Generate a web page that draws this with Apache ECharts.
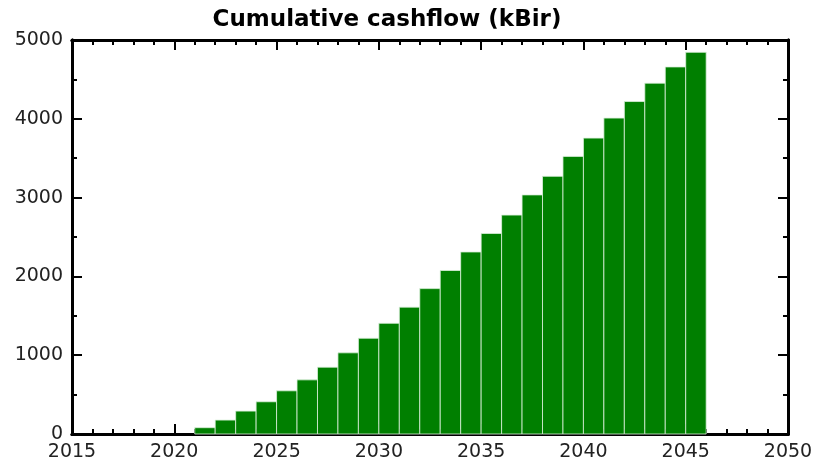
<!DOCTYPE html>
<html>
<head>
<meta charset="utf-8">
<script src="https://cdn.jsdelivr.net/npm/echarts@6/dist/echarts.min.js"></script>
<style>
  html, body { margin: 0; padding: 0; background: #fff; }
  #chart { width: 817px; height: 463px; }
</style>
</head>
<body>
<div id="chart"></div>
<script>
// Years (each bar covers one full year, from the year to the next)
const years = [2021, 2022, 2023, 2024, 2025, 2026, 2027, 2028, 2029, 2030,
               2031, 2032, 2033, 2034, 2035, 2036, 2037, 2038, 2039, 2040,
               2041, 2042, 2043, 2044, 2045];
// Cumulative cashflow in kBir
const cashflow = [80, 177, 291, 409, 548, 687, 848, 1030, 1215, 1405,
                  1610, 1845, 2075, 2310, 2545, 2778, 3034, 3270, 3523, 3755,
                  4009, 4219, 4452, 4658, 4844];

const chart = echarts.init(document.getElementById('chart'), null, { renderer: 'canvas' });

const labelFont = { fontFamily: 'DejaVu Sans', fontSize: 19, color: '#222', formatter: v => String(v) };

// Build a frame axis: major axes carry labels and long ticks, minor ones short ticks only.
function frameAxis(pos, min, max, interval, len, withLabels, margin) {
  return {
    type: 'value', min: min, max: max, interval: interval, position: pos,
    axisLine: { show: true, onZero: false, lineStyle: { color: '#000', width: 3 } },
    axisTick: { show: true, inside: true, length: len, lineStyle: { color: '#000', width: 2 } },
    splitLine: { show: false },
    axisLabel: withLabels ? Object.assign({ margin: margin }, labelFont) : { show: false }
  };
}

chart.setOption({
  animation: false,
  backgroundColor: '#fff',
  title: {
    text: 'Cumulative cashflow (kBir)',
    left: 382,
    textAlign: 'center',
    top: 4,
    textStyle: { fontFamily: 'DejaVu Sans', fontSize: 23, fontWeight: 'bold', color: '#000' }
  },
  grid: { left: 72, right: 29, top: 40, bottom: 29 },
  xAxis: [
    frameAxis('bottom', 2015, 2050, 5, 10, true, 9),
    frameAxis('bottom', 2015, 2050, 1, 5, false),
    frameAxis('top', 2015, 2050, 5, 10, false),
    frameAxis('top', 2015, 2050, 1, 5, false)
  ],
  yAxis: [
    frameAxis('left', 0, 5000, 1000, 10, true, 9),
    frameAxis('left', 0, 5000, 500, 5, false),
    frameAxis('right', 0, 5000, 1000, 10, false),
    frameAxis('right', 0, 5000, 500, 5, false)
  ],
  series: [{
    type: 'custom',
    xAxisIndex: 0,
    yAxisIndex: 0,
    z: 1,
    data: years.map((y, i) => [y, cashflow[i]]),
    renderItem: function (params, api) {
      const start = api.value(0);
      const p0 = api.coord([start, 0]);
      const p1 = api.coord([start + 1, api.value(1)]);
      return {
        type: 'rect',
        shape: { x: p0[0], y: p1[1], width: p1[0] - p0[0], height: p0[1] - p1[1] },
        style: { fill: '#007f00', stroke: 'rgba(220,240,220,0.8)', lineWidth: 1 }
      };
    }
  }]
});
</script>
</body>
</html>
